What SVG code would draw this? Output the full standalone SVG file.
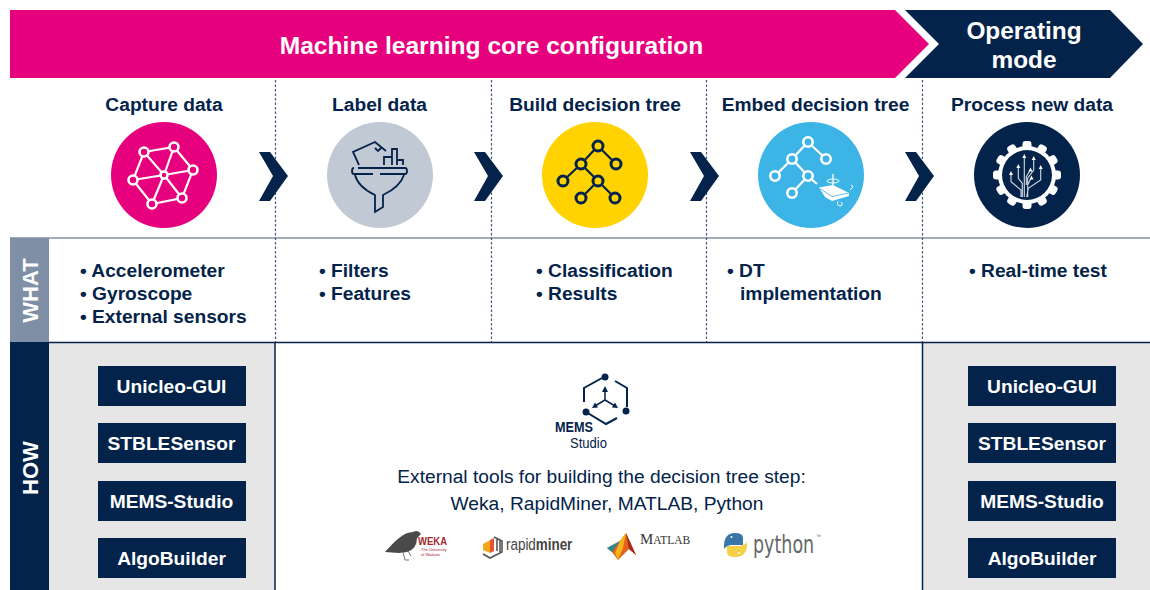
<svg xmlns="http://www.w3.org/2000/svg" width="1150" height="590" viewBox="0 0 1150 590">
<defs>
<style>
text{font-family:"Liberation Sans",Arial,sans-serif;fill:#03234b}
.b{font-weight:700}
.h{font-size:19.200px;font-weight:700;text-anchor:middle}
.l{font-size:19.200px;font-weight:700}
.t{font-size:19.200px;font-weight:700;text-anchor:middle;fill:#fff}
.bx{fill:#03234b}
.dot{stroke:#42587a;stroke-width:1.200;stroke-dasharray:2.500 2;fill:none}
.n{stroke:#03234b;stroke-width:1.500;fill:none}
.iw{stroke:#fff;stroke-width:2.200;fill:none}
.in{stroke:#03234b;stroke-width:2.200;fill:none}
.inn{fill:#ffd200;stroke:#03234b;stroke-width:3}
.c{fill:none;stroke:#d5dbe3;stroke-width:1.100}
</style>
<polygon id="chev" points="259,152 270,152 288,176 270,201 259,201 273,176" fill="#03234b"/>
</defs>

<g id="banner-config"><polygon points="10,10 895,10 929,44 895,78 10,78" fill="#e6007e"/>
<text x="491.500" y="54" text-anchor="middle" class="b" style="fill:#fff;font-size:24.600px">Machine learning core configuration</text></g>
<g id="banner-operating"><polygon points="905,10 1110,10 1143,44 1110,78 905,78 939,44" fill="#03234b"/>
<text x="1024" y="39" text-anchor="middle" class="b" style="fill:#fff;font-size:24.400px">Operating</text>
<text x="1024" y="68" text-anchor="middle" class="b" style="fill:#fff;font-size:24.400px">mode</text></g>

<g id="panels">
<rect x="49" y="343" width="226" height="247" fill="#e6e6e6"/>
<rect x="923" y="343" width="227" height="247" fill="#e6e6e6"/>
</g>

<g id="connectors">
<path class="dot" d="M275.500 80V342M491.500 80V342M706.500 80V342M922.500 80V342"/>
<path d="M10 238H1150" stroke="#42587a" stroke-width="1.200" fill="none"/>
<path class="n" d="M10 342.500H1150M275 343V590M922.500 343V590"/>
<use href="#chev"/>
<use href="#chev" x="215"/>
<use href="#chev" x="431"/>
<use href="#chev" x="646"/>
</g>

<g id="what-label"><rect x="10" y="238" width="39" height="104" fill="#7f8fa5"/>
<text transform="translate(37.500,290.500) rotate(-90)" text-anchor="middle" class="b" style="fill:#fff;font-size:22px">WHAT</text></g>
<g id="how-label"><rect x="10" y="342" width="39" height="248" fill="#03234b"/>
<text transform="translate(37.500,468) rotate(-90)" text-anchor="middle" class="b" style="fill:#fff;font-size:22px">HOW</text></g>

<g id="capture-data">
<text x="164" y="110.500" class="h">Capture data</text>
<circle cx="164" cy="175" r="53" fill="#e6007e"/>
<path class="iw" d="M144 152L174 147L193 170L182 198L152 204L133 180ZM164 175L144 152M164 175L174 147M164 175L193 170M164 175L182 198M164 175L152 204M164 175L133 180"/>
<g fill="#e6007e" stroke="#fff" stroke-width="2.600"><circle cx="144" cy="152" r="4.500"/><circle cx="174" cy="147" r="4.500"/><circle cx="193" cy="170" r="4.500"/><circle cx="164" cy="175" r="3.500"/><circle cx="133" cy="180" r="4.500"/><circle cx="152" cy="204" r="4.500"/><circle cx="182" cy="198" r="4.500"/></g>
</g>

<g id="label-data">
<text x="379.500" y="110.500" class="h">Label data</text>
<circle cx="380" cy="175" r="53" fill="#c1c9d4"/>
<g class="in" style="stroke-width:1.800">
<path d="M359 165L353 152L375 142L386 151M375 148L378 151L381 148"/>
<path d="M384 165V157H392V165M392 157V149H397V165M397 160H403V165"/>
<path d="M358 168H405Q407 168 407 171Q407 174 405 174H380M373 174H354Q352 174 352 171Q352 168 354 168"/>
<path d="M355 175Q358 187 375 195V212L383 207V195Q400 187 404 175"/>
</g>
</g>

<g id="build-tree">
<text x="595" y="110.500" class="h">Build decision tree</text>
<circle cx="595" cy="175" r="53" fill="#ffd200"/>
<path class="in" d="M598 146L581 164L563 181M598 146L616 164M581 164L598 181L581 198M598 181L615 198"/>
<g class="inn"><circle cx="598" cy="146" r="5"/><circle cx="581" cy="164" r="5"/><circle cx="616" cy="164" r="5"/><circle cx="563" cy="181" r="5"/><circle cx="598" cy="181" r="5"/><circle cx="581" cy="198" r="5"/><circle cx="615" cy="198" r="5"/></g>
</g>

<g id="embed-tree">
<text x="815.500" y="110.500" class="h">Embed decision tree</text>
<circle cx="811" cy="175" r="53" fill="#3cb4e6"/>
<path class="iw" d="M808 142L792 159L775 176M808 142L826 159M792 159L808 176L792 193M808 176L817 184"/>
<g fill="#3cb4e6" stroke="#fff" stroke-width="2.600"><circle cx="808" cy="142" r="4.700"/><circle cx="792" cy="159" r="4.700"/><circle cx="826" cy="159" r="4.700"/><circle cx="775" cy="176" r="4.700"/><circle cx="808" cy="176" r="4.700"/><circle cx="792" cy="193" r="4.700"/></g>
<path d="M819 187.500L825 197L832 201L849 196V193L833 185Z" fill="#fff"/>
<path d="M820 188.500L832 196.500L848.500 193" fill="none" stroke="#3cb4e6" stroke-width="0.800"/>
<path d="M833 174V190" stroke="#fff" stroke-width="1.300"/>
<ellipse cx="833" cy="181" rx="6" ry="2" fill="none" stroke="#fff" stroke-width="1"/>
<path d="M850 190Q855 186 851 185M838 201Q836 206 841 206Q844 204 841 202" fill="none" stroke="#fff" stroke-width="1"/>
</g>

<g id="process-data">
<text x="1032" y="110.500" class="h">Process new data</text>
<circle cx="1027" cy="175" r="53" fill="#03234b"/>
<circle cx="1027" cy="175" r="29" fill="#fff"/>
<g fill="#fff"><rect id="tooth" x="1022.500" y="141" width="9" height="9" rx="3"/>
<use href="#tooth" transform="rotate(30 1027 175)"/><use href="#tooth" transform="rotate(60 1027 175)"/><use href="#tooth" transform="rotate(90 1027 175)"/><use href="#tooth" transform="rotate(120 1027 175)"/><use href="#tooth" transform="rotate(150 1027 175)"/><use href="#tooth" transform="rotate(180 1027 175)"/><use href="#tooth" transform="rotate(210 1027 175)"/><use href="#tooth" transform="rotate(240 1027 175)"/><use href="#tooth" transform="rotate(270 1027 175)"/><use href="#tooth" transform="rotate(300 1027 175)"/><use href="#tooth" transform="rotate(330 1027 175)"/></g>
<circle cx="1027" cy="175" r="25" fill="#03234b"/>
<path class="c" d="M1024.300 157V197M1033.700 159V170L1027.700 178.300V197M1018.300 167V178.300L1022.300 183.300V197M1011 174V181.700L1021 190V197M1040.700 168V180L1028.300 188.300L1026.700 197M1030 170.500L1026.300 176.700V185M1031 178.300L1027.700 185"/>
<path d="M1024.300 154L1022.300 158H1026.300ZM1033.700 156L1031.700 160H1035.700ZM1018.300 164L1016.300 168H1020.300ZM1011 171L1009 175H1013ZM1040.700 165L1038.700 169H1042.700ZM1030.500 167.500L1028.500 171.500H1032.500ZM1031.500 175.500L1029.500 179.500H1033.500Z" fill="#fff"/>
</g>

<g id="what-capture"><text x="80" y="277" class="l">• Accelerometer</text><text x="80" y="300" class="l">• Gyroscope</text><text x="80" y="323" class="l">• External sensors</text></g>
<g id="what-label-data"><text x="319" y="277" class="l">• Filters</text><text x="319" y="300" class="l">• Features</text></g>
<g id="what-build"><text x="536" y="277" class="l">• Classification</text><text x="536" y="300" class="l">• Results</text></g>
<g id="what-embed"><text x="727" y="277" class="l">• DT</text><text x="740" y="300" class="l">implementation</text></g>
<g id="what-process"><text x="969" y="277" class="l">• Real-time test</text></g>

<g id="left-tool-1"><rect class="bx" x="98" y="366" width="148" height="40"/><text x="171.500" y="393" class="t">Unicleo-GUI</text></g>
<g id="left-tool-2"><rect class="bx" x="98" y="423" width="148" height="40"/><text x="171.500" y="450" class="t">STBLESensor</text></g>
<g id="left-tool-3"><rect class="bx" x="98" y="481" width="148" height="40"/><text x="171.500" y="508" class="t">MEMS-Studio</text></g>
<g id="left-tool-4"><rect class="bx" x="98" y="538" width="148" height="40"/><text x="171.500" y="565" class="t">AlgoBuilder</text></g>
<g id="right-tool-1"><rect class="bx" x="968" y="366" width="148" height="40"/><text x="1042" y="393" class="t">Unicleo-GUI</text></g>
<g id="right-tool-2"><rect class="bx" x="968" y="423" width="148" height="40"/><text x="1042" y="450" class="t">STBLESensor</text></g>
<g id="right-tool-3"><rect class="bx" x="968" y="481" width="148" height="40"/><text x="1042" y="508" class="t">MEMS-Studio</text></g>
<g id="right-tool-4"><rect class="bx" x="968" y="538" width="148" height="40"/><text x="1042" y="565" class="t">AlgoBuilder</text></g>

<g id="mems-studio">
<path d="M602 378L584 388V402M615 381L627 388V407M586 412L606 424L617 418" fill="none" stroke="#03234b" stroke-width="2"/>
<circle cx="605" cy="377" r="3.500" fill="#03234b"/><circle cx="626" cy="411" r="3.500" fill="#03234b"/><circle cx="586" cy="412" r="3.500" fill="#03234b"/>
<path d="M605 390V400L595 406M605 400L615 406" fill="none" stroke="#03234b" stroke-width="1.500"/>
<path d="M605 386L602 392H608ZM592 408L598 407.500L595 402.500ZM618 408L612 407.500L615 402.500Z" fill="#03234b"/>
<text x="555" y="432" class="b" style="font-size:14px" textLength="38" lengthAdjust="spacingAndGlyphs">MEMS</text>
<text x="570" y="448" style="font-size:14px" textLength="37" lengthAdjust="spacingAndGlyphs">Studio</text>
</g>
<g id="external-tools"><text x="601.500" y="483" text-anchor="middle" style="font-size:19.200px">External tools for building the decision tree step:</text>
<text x="607" y="510" text-anchor="middle" style="font-size:19.200px">Weka, RapidMiner, MATLAB, Python</text></g>

<g id="logo-weka">
<path d="M385 552Q393 543 399 538Q406 532 413 532Q418 529 421 534L417 538Q417 549 407 552L399 553Z" fill="#4a4a4a"/>
<path d="M403 552L405 560H409M408 551L411 556" fill="none" stroke="#666" stroke-width="0.900"/>
<text x="418" y="545" class="b" style="fill:#a3282f;font-size:11px" textLength="29" lengthAdjust="spacingAndGlyphs">WEKA</text>
<text x="421" y="551" style="fill:#a3282f;font-size:4px">The University</text>
<text x="421" y="556" style="fill:#a3282f;font-size:4px">of Waikato</text>
</g>
<g id="logo-rapidminer">
<path d="M483 544L490 540V553L483 550Z" fill="#f2a71b"/>
<path d="M490 540L494 538V551L490 553Z" fill="#e4572e"/>
<path d="M494 537L502 541V552L490 558L483 554M497 539V551M500 540V552" fill="none" stroke="#555" stroke-width="1.600"/>
<text transform="translate(506,550) scale(0.79,1)" style="fill:#444;font-size:17px">rapid<tspan class="b" style="fill:#444">miner</tspan></text>
</g>
<g id="logo-matlab">
<path d="M607 548L620 541L626 533L636 555L629 549L618 560L612 552Z" fill="#e2621b"/>
<path d="M626 533L636 555L629 549Z" fill="#a5281b"/>
<path d="M626 533L623 548L618 560L615 553L620 541Z" fill="#f5b31a"/>
<path d="M607 548L620 541L612 552Z" fill="#2a8a8e"/>
<text x="640" y="544" style="font-family:'Liberation Serif',serif;fill:#333" textLength="50" lengthAdjust="spacingAndGlyphs"><tspan style="font-size:15px;fill:#333">M</tspan><tspan style="font-size:11.500px;fill:#333">ATLAB</tspan></text>
</g>
<g id="logo-python">
<path d="M735 533Q743 533 743 538V545H732Q727 545 724 549Q723 533 735 533Z" fill="#3a75a8"/>
<path d="M735 557Q727 557 727 552V546H738Q744 546 747 542Q748 557 735 557Z" fill="#f5cf45"/>
<circle cx="731.500" cy="537" r="1" fill="#fff"/><circle cx="739" cy="553" r="1" fill="#fff"/>
<text transform="translate(753,553) scale(0.7,1)" style="fill:#666;font-size:25px;font-family:'DejaVu Sans',sans-serif">python</text>
<text x="816" y="538" style="fill:#666;font-size:5px">™</text>
</g>
</svg>
